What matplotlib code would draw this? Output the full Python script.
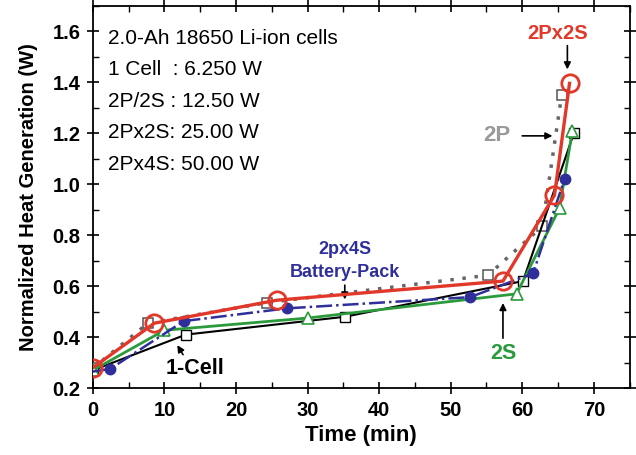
import matplotlib
matplotlib.use("Agg")
import matplotlib.pyplot as plt
from matplotlib.ticker import MultipleLocator

plt.rcParams['font.family'] = ['Liberation Sans', 'DejaVu Sans']

# heat generation curves
t_2p2s = [0, 8.6, 25.7, 57.3, 64.5, 66.6]
q_2p2s = [0.28, 0.455, 0.545, 0.62, 0.957, 1.396]

t_2p = [0, 7.7, 24.3, 55.2, 62.8, 65.5]
q_2p = [0.278, 0.455, 0.535, 0.643, 0.835, 1.35]

t_1cell = [0, 13.0, 35.2, 60.1, 67.2]
q_1cell = [0.27, 0.41, 0.48, 0.62, 1.2]

t_2s = [0, 10.0, 30.0, 59.2, 65.2, 67.0]
q_2s = [0.27, 0.427, 0.475, 0.57, 0.906, 1.21]

t_pack = [0, 2.4, 12.7, 27.1, 52.7, 61.5, 65.9]
q_pack = [0.265, 0.275, 0.463, 0.513, 0.557, 0.65, 1.02]

info_lines = ["2.0-Ah 18650 Li-ion cells", "1 Cell  : 6.250 W", "2P/2S : 12.50 W",
              "2Px2S: 25.00 W", "2Px4S: 50.00 W"]

red = '#e2382a'
gray = '#9a9a9a'
green = '#2b9a3c'
blue = '#2f2f9c'

fig = plt.figure(figsize=(6.36, 4.55), dpi=100)
ax = fig.add_axes([0.146, 0.147, 0.844, 0.84])

ax.plot(t_2p, q_2p, ls=(0, (1, 2.5)), lw=2.5, color='#666666', marker='s', ms=7.5,
        mfc='white', mec='#555555', mew=1.1, zorder=3)
ax.plot(t_1cell, q_1cell, '-', lw=1.5, color='black', marker='s', ms=6.5,
        mfc='white', mec='black', mew=1.0, zorder=4)
ax.plot(t_2s, q_2s, '-', lw=2.0, color=green, marker='^', ms=8.5,
        mfc='white', mec=green, mew=1.2, zorder=4)
ax.plot(t_pack, q_pack, '-.', lw=1.8, color=blue, marker='o', ms=7.5,
        mfc=blue, mec=blue, zorder=5, markevery=[1, 2, 3, 4, 5, 6])
ax.plot(t_2p2s, q_2p2s, '-', lw=2.4, color=red, marker='o', ms=12.5,
        mfc='none', mec=red, mew=2.0, zorder=6)

ax.set_xlim(0, 75)
ax.set_ylim(0.2, 1.7)
ax.xaxis.set_minor_locator(MultipleLocator(5))
ax.yaxis.set_minor_locator(MultipleLocator(0.1))
ax.set_xticks(range(0, 71, 10))
ax.set_yticks([0.2, 0.4, 0.6, 0.8, 1.0, 1.2, 1.4, 1.6])
ax.tick_params(which='major', direction='inout', length=8, width=1.2,
               top=True, right=True, labelsize=14.5, pad=5)
ax.tick_params(which='minor', direction='in', length=4, width=1.0,
               top=True, right=True)
for lbl in ax.get_xticklabels() + ax.get_yticklabels():
    lbl.set_fontweight('bold')
for s in ax.spines.values():
    s.set_linewidth(1.3)

ax.set_xlabel('Time (min)', fontsize=16, fontweight='bold', labelpad=4)
ax.set_ylabel('Normalized Heat Generation (W)', fontsize=14.5, fontweight='bold', labelpad=10)

for i, line in enumerate(info_lines):
    ax.text(0.028, 0.916 - i * 0.0827, line, transform=ax.transAxes, fontsize=15,
            va='center', ha='left')

arrow = dict(arrowstyle='-|>', color='black', lw=1.2, mutation_scale=10)
ax.text(64.9, 1.59, '2Px2S', color=red, fontsize=14.5, fontweight='bold',
        ha='center', va='center')
ax.annotate('', xy=(66.3, 1.44), xytext=(66.3, 1.555), arrowprops=arrow)
ax.text(56.4, 1.19, '2P', color=gray, fontsize=16, fontweight='bold',
        ha='center', va='center')
ax.annotate('', xy=(64.6, 1.19), xytext=(59.6, 1.19), arrowprops=arrow)
ax.text(35.2, 0.70, '2px4S\nBattery-Pack', color=blue, fontsize=13, fontweight='bold',
        ha='center', va='center', linespacing=1.45)
ax.annotate('', xy=(35.2, 0.537), xytext=(35.2, 0.615), arrowprops=arrow)
ax.text(57.3, 0.335, '2S', color=green, fontsize=15.5, fontweight='bold',
        ha='center', va='center')
ax.annotate('', xy=(57.3, 0.545), xytext=(57.3, 0.385), arrowprops=arrow)
ax.text(14.3, 0.278, '1-Cell', color='black', fontsize=15.5, fontweight='bold',
        ha='center', va='center')
ax.annotate('', xy=(11.6, 0.378), xytext=(12.8, 0.322), arrowprops=arrow)

fig.savefig('out.png', dpi=100)
